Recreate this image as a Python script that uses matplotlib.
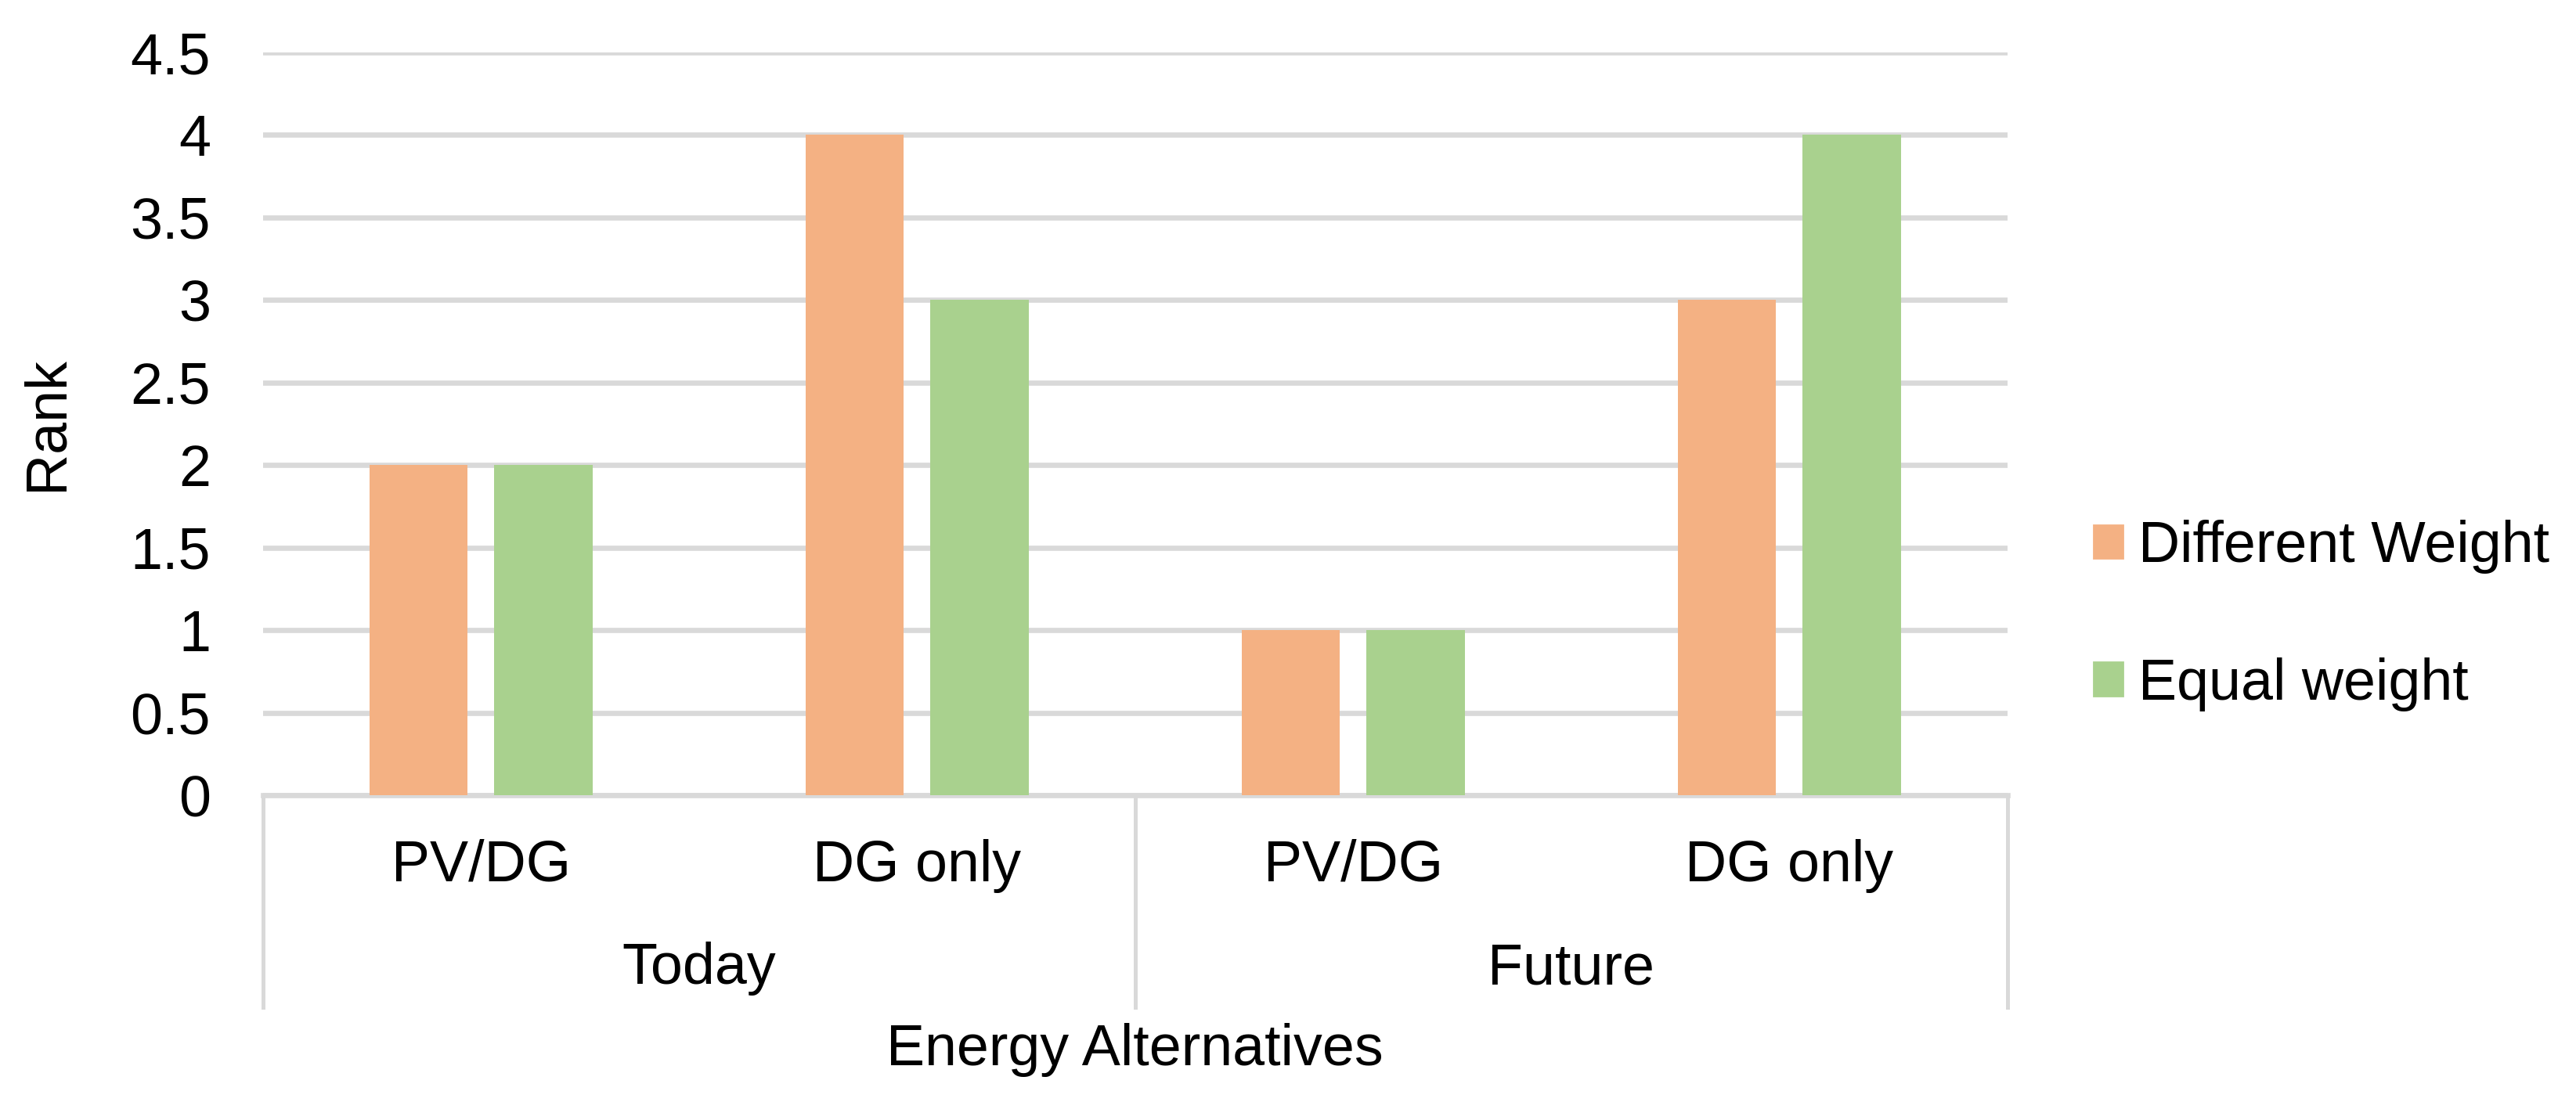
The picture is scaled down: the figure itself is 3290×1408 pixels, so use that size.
import matplotlib
matplotlib.use("Agg")
import matplotlib.pyplot as plt
import numpy as np
from matplotlib.patches import Patch

groups = ["Today", "Future"]
alternatives = ["PV/DG", "DG only", "PV/DG", "DG only"]
different_weight = [2, 4, 1, 3]
equal_weight = [2, 3, 1, 4]
series_names = ["Different Weight", "Equal weight"]

ORANGE = "#F4B183"
GREEN = "#A9D18E"
GRID = "#D9D9D9"

plt.rcParams["font.family"] = ["Liberation Sans", "DejaVu Sans"]
plt.rcParams["font.size"] = 26.5

fig = plt.figure(figsize=(16.455, 7.04), dpi=200)
ax = fig.add_axes([0.102, 0.2784, 0.677, 0.674])

x = np.arange(len(alternatives))
w = 0.226
off = 0.143
ax.bar(x - off, different_weight, w, color=ORANGE, zorder=3)
ax.bar(x + off, equal_weight, w, color=GREEN, zorder=3)

ax.set_xlim(-0.5, len(alternatives) - 0.5)
ax.set_ylim(0, 4.5)
ax.set_yticks(np.arange(0, 4.51, 0.5))
ax.set_yticklabels(["0", "0.5", "1", "1.5", "2", "2.5", "3", "3.5", "4", "4.5"])
ax.yaxis.grid(True, color=GRID, linewidth=2.4, zorder=0)
ax.set_axisbelow(True)
for s in ["top", "right", "left"]:
    ax.spines[s].set_visible(False)
ax.spines["bottom"].set_color(GRID)
ax.spines["bottom"].set_linewidth(2.4)
ax.tick_params(axis="y", length=0, pad=24)
ax.tick_params(axis="x", length=0, pad=20)
ax.set_xticks(x)
ax.set_xticklabels(alternatives)
ax.set_ylabel("Rank", labelpad=26)

# multi-level category axis
sep_bottom = -0.2856
for xs in [-0.5, 1.5, 3.5]:
    ax.plot([xs, xs], [0, sep_bottom], color=GRID, linewidth=1.8,
            transform=ax.get_xaxis_transform(), clip_on=False)
for i, g in enumerate(groups):
    ax.text(2 * i + 0.5, -0.2334, g, ha="center", va="center",
            transform=ax.get_xaxis_transform())
ax.text(0.5, -0.3435, "Energy Alternatives", ha="center", va="center",
        transform=ax.transAxes)

handles = [Patch(color=ORANGE), Patch(color=GREEN)]
fig.legend(handles, series_names, loc="center left",
           bbox_to_anchor=(0.8125, 0.4415), frameon=False, borderpad=0,
           borderaxespad=0, handlelength=0.51, handleheight=0.51,
           handletextpad=0.26, labelspacing=1.45)

fig.savefig("out.png", dpi=200)
